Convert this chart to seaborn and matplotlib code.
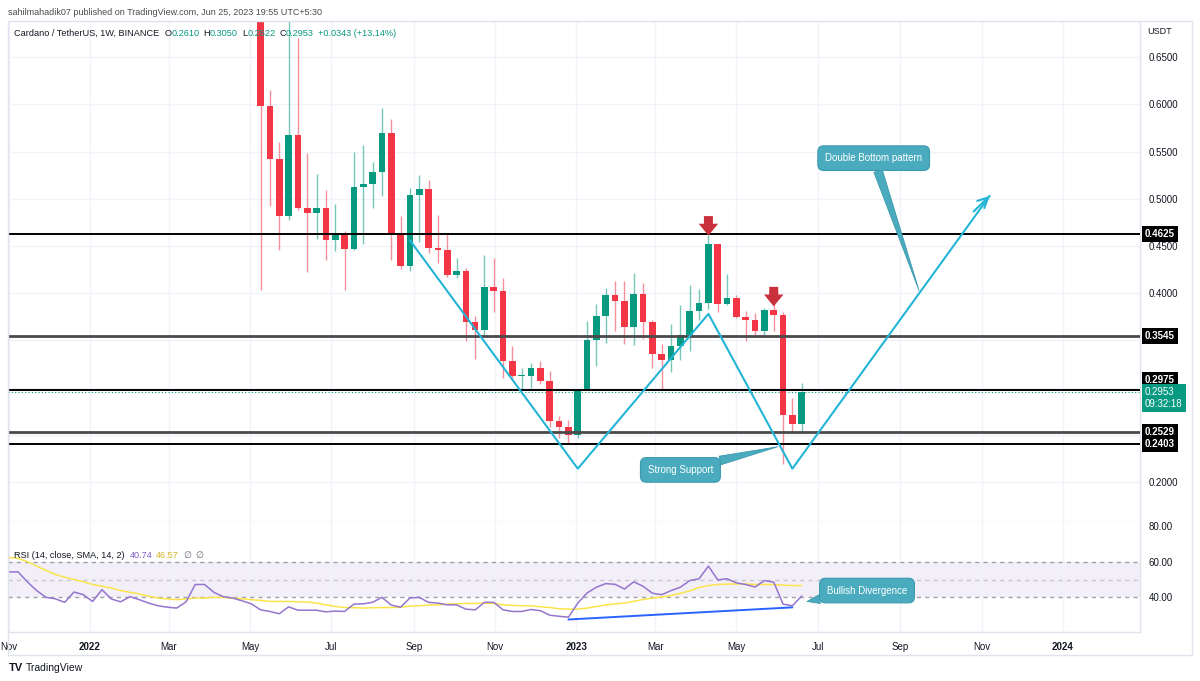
"""
Weekly ADA/USDT chart (TradingView style) with RSI pane, key levels and
double-bottom annotations. Saves out.png (1200x681).
"""

import matplotlib
matplotlib.use("Agg")
import matplotlib.pyplot as plt
import matplotlib.dates as mdates
import matplotlib.transforms as mtransforms
from matplotlib.patches import Rectangle
import numpy as np
import pandas as pd
import seaborn as sns

W, H = 1200, 681

GREEN = "#089981"
RED = "#F23645"
CYAN = "#22b5d6"
CALLOUT = "#4aabbe"
TEXT = "#131722"
GRID = "#f0f3fa"

# ---- data -----------------------------------------------------------------
# weekly candles, first week shown is 2022-05-09
CANDLE_START = "2022-05-09"
opens = [0.790, 0.598, 0.542, 0.482, 0.568, 0.490, 0.485, 0.490, 0.456, 0.463,
         0.447, 0.512, 0.516, 0.528, 0.570, 0.463, 0.429, 0.504, 0.510, 0.448,
         0.446, 0.419, 0.423, 0.369, 0.361, 0.406, 0.402, 0.3285, 0.312, 0.3125,
         0.321, 0.3065, 0.265, 0.2584, 0.2496, 0.2973, 0.350, 0.376, 0.3975, 0.392,
         0.364, 0.399, 0.369, 0.336, 0.329, 0.344, 0.356, 0.3815, 0.389, 0.4516,
         0.388, 0.395, 0.375, 0.371, 0.3596, 0.3826, 0.3773, 0.2708, 0.2610]
highs = [0.800, 0.615, 0.560, 0.700, 0.670, 0.548, 0.526, 0.509, 0.494, 0.466,
         0.549, 0.557, 0.539, 0.596, 0.584, 0.482, 0.511, 0.525, 0.520, 0.483,
         0.463, 0.4375, 0.427, 0.3755, 0.440, 0.4375, 0.416, 0.3436, 0.321, 0.326,
         0.3285, 0.318, 0.270, 0.2655, 0.2983, 0.370, 0.388, 0.405, 0.413, 0.413,
         0.421, 0.4105, 0.372, 0.346, 0.367, 0.387, 0.409, 0.4046, 0.462, 0.4516,
         0.420, 0.3975, 0.3815, 0.3787, 0.3843, 0.3886, 0.3797, 0.2889, 0.3050]
lows = [0.403, 0.492, 0.446, 0.477, 0.488, 0.422, 0.457, 0.435, 0.445, 0.403,
        0.446, 0.452, 0.490, 0.503, 0.435, 0.426, 0.423, 0.454, 0.442, 0.432,
        0.417, 0.416, 0.349, 0.330, 0.353, 0.380, 0.310, 0.310, 0.298, 0.299,
        0.304, 0.258, 0.247, 0.240, 0.247, 0.2973, 0.323, 0.347, 0.360, 0.346,
        0.3455, 0.3515, 0.321, 0.297, 0.316, 0.329, 0.339, 0.3717, 0.383, 0.3797,
        0.3879, 0.3738, 0.349, 0.356, 0.3553, 0.3603, 0.2194, 0.2531, 0.2522]
closes = [0.598, 0.542, 0.482, 0.568, 0.490, 0.485, 0.490, 0.456, 0.463, 0.447,
          0.512, 0.516, 0.528, 0.570, 0.463, 0.429, 0.504, 0.510, 0.448, 0.446,
          0.419, 0.423, 0.369, 0.361, 0.406, 0.402, 0.3285, 0.312, 0.3125, 0.321,
          0.3065, 0.265, 0.2584, 0.2496, 0.2973, 0.350, 0.376, 0.3975, 0.392, 0.364,
          0.399, 0.369, 0.336, 0.329, 0.344, 0.356, 0.3815, 0.389, 0.4516, 0.388,
          0.395, 0.375, 0.371, 0.3596, 0.3826, 0.3773, 0.2708, 0.2610, 0.2953]

# weekly RSI(14) and its SMA(14), first week is 2021-11-01
RSI_START = "2021-11-01"
rsi = [54.2, 54.3, 48.7, 43.8, 40.0, 39.2, 37.2, 43.0, 41.5, 37.7,
       44.3, 39.1, 37.5, 40.4, 38.7, 36.8, 35.3, 34.5, 34.0, 37.4,
       47.2, 47.2, 42.8, 40.4, 39.6, 38.1, 36.4, 33.0, 32.1, 30.8,
       34.7, 32.8, 32.8, 32.8, 31.9, 32.3, 32.1, 36.2, 36.4, 37.2,
       40.0, 35.7, 34.5, 39.6, 40.0, 37.2, 36.8, 35.8, 35.8, 33.4,
       33.0, 37.2, 37.2, 33.0, 32.1, 32.1, 33.2, 32.5, 30.0, 29.4,
       28.9, 36.8, 42.5, 45.7, 47.7, 47.3, 44.7, 48.7, 46.2, 42.3,
       41.5, 43.8, 45.7, 49.4, 50.4, 57.5, 49.8, 50.4, 48.1, 47.2,
       45.8, 49.4, 48.5, 36.2, 35.3, 40.74]
rsi_sma = [62.3, 61.9, 60.0, 57.5, 55.1, 52.8, 51.3, 50.0, 48.7, 47.2,
           46.2, 45.3, 43.8, 42.8, 41.9, 40.6, 39.6, 39.1, 38.7, 39.1,
           39.6, 39.6, 40.0, 40.0, 39.6, 39.2, 38.7, 38.3, 37.7, 37.7,
           37.7, 37.5, 37.4, 36.8, 35.8, 34.9, 34.3, 34.2, 34.0, 34.2,
           34.3, 34.3, 34.5, 35.1, 35.3, 35.7, 35.8, 36.2, 36.4, 36.6,
           36.6, 36.8, 36.6, 35.8, 35.5, 35.3, 35.3, 34.7, 34.3, 33.6,
           33.4, 33.4, 34.0, 34.9, 35.8, 36.3, 36.8, 37.8, 38.8, 39.6,
           40.2, 41.0, 42.3, 43.6, 45.5, 46.6, 47.2, 47.4, 47.5, 47.5,
           47.2, 47.2, 47.2, 46.8, 46.6, 46.57]

# horizontal levels drawn on the chart
levels = [0.4625, 0.3545, 0.2975, 0.2529, 0.2403]
level_labels = ["0.4625", "0.3545", "0.2975", "0.2529", "0.2403"]
last_price = 0.2953

# double bottom zig-zag
pattern_dates = ["2022-08-29", "2023-01-02", "2023-04-10", "2023-06-12", "2023-11-07"]
pattern_prices = [0.456, 0.214, 0.378, 0.214, 0.503]

# RSI divergence trendline
div_dates = ["2022-12-26", "2023-06-12"]
div_values = [27.6, 34.4]

# sell-off arrows (date, tip price)
arrow_dates = ["2023-04-10", "2023-05-29"]
arrow_prices = [0.461, 0.386]

price_ticks = [0.20, 0.25, 0.30, 0.35, 0.40, 0.45, 0.50, 0.55, 0.60, 0.65]
price_tick_labels = ["0.2000", "", "", "", "0.4000", "0.4500", "0.5000",
                     "0.5500", "0.6000", "0.6500"]
rsi_ticks = [40, 60, 80]
x_tick_dates = ["2021-11-01", "2022-01-01", "2022-03-01", "2022-05-01", "2022-07-01",
                "2022-09-01", "2022-11-01", "2023-01-01", "2023-03-01", "2023-05-01",
                "2023-07-01", "2023-09-01", "2023-11-01", "2024-01-01"]
x_tick_labels = ["Nov", "2022", "Mar", "May", "Jul", "Sep", "Nov", "2023",
                 "Mar", "May", "Jul", "Sep", "Nov", "2024"]


def dnum(s):
    return mdates.date2num(pd.Timestamp(s))


def px_axes(fig, left, top, right, bottom):
    return fig.add_axes([left / W, 1 - bottom / H, (right - left) / W, (bottom - top) / H])


def draw_pieces(fig, x_px, y_px, pieces, size):
    """Write a row of differently coloured text pieces left to right."""
    renderer = fig.canvas.get_renderer()
    x = x_px
    for txt, color, extra in pieces:
        t = fig.text(x / W, 1 - y_px / H, txt, color=color, fontsize=size,
                     ha="left", va="center")
        x += t.get_window_extent(renderer=renderer).width + extra


sns.set_theme(style="white")
plt.rcParams["font.family"] = ["Liberation Sans", "DejaVu Sans"]

fig = plt.figure(figsize=(W / 100, H / 100), dpi=100)
ax = px_axes(fig, 8, 21, 1140, 522)
ax_rsi = px_axes(fig, 8, 522, 1140, 632)

x_left = dnum(RSI_START) - 0.5
x_right = x_left + 1132 / (9.33 / 7)
for a in (ax, ax_rsi):
    a.set_xlim(x_left, x_right)
    a.set_facecolor("white")
    for side in ("top", "left"):
        a.spines[side].set_visible(False)
    for side in ("right", "bottom"):
        a.spines[side].set_color("#e0e3eb")
        a.spines[side].set_linewidth(1)
    a.set_xticks([dnum(d) for d in x_tick_dates])
    a.grid(axis="x", color=GRID, linewidth=1)
    a.tick_params(length=0)

# ---- price pane -------------------------------------------------------------
ax.set_ylim(0.1575, 0.6883)
ax.set_yticks(price_ticks)
ax.set_yticklabels(price_tick_labels)
ax.yaxis.tick_right()
ax.tick_params(axis="y", labelsize=7, labelcolor=TEXT, pad=6)
ax.set_xticklabels([])
ax.grid(axis="y", color=GRID, linewidth=1)

cdates = pd.date_range(CANDLE_START, periods=len(opens), freq="7D")
cx = mdates.date2num(cdates)
o = np.array(opens)
c = np.array(closes)
colors = [GREEN if cc >= oo else RED for oo, cc in zip(o, c)]
ax.vlines(cx, lows, highs, colors=colors, linewidth=1, alpha=0.55, zorder=3)
body = np.maximum(np.abs(c - o), 0.0008)
ax.bar(cx, body, bottom=np.minimum(o, c), width=5.0, color=colors,
       linewidth=0, zorder=4)

for lvl in levels:
    grey = lvl in (0.3545, 0.2529)
    ax.axhline(lvl, color="#4a4a4a" if grey else "black",
               linewidth=2.0 if grey else 1.4, zorder=5)
ax.axhline(last_price, color=GREEN, linewidth=0.8, linestyle=(0, (1, 2)), zorder=2)

pdx = [dnum(d) for d in pattern_dates]
ax.plot(pdx, pattern_prices, color=CYAN, linewidth=1.5, zorder=6)
ax.annotate("", xy=(pdx[-1], pattern_prices[-1]),
            xytext=(pdx[-1] - 12, pattern_prices[-1] - 0.0165),
            arrowprops=dict(arrowstyle="->", color=CYAN, lw=1.5,
                            mutation_scale=18, shrinkA=0, shrinkB=0), zorder=6)

for d, p in zip(arrow_dates, arrow_prices):
    ax.annotate("", xy=(dnum(d), p), xytext=(0, 14), textcoords="offset points",
                arrowprops=dict(arrowstyle="simple,head_length=0.85,head_width=1.4,tail_width=0.65",
                                fc="#c9303c", ec="none", mutation_scale=10,
                                shrinkA=0, shrinkB=0), zorder=7)

box = dict(boxstyle="round,pad=0.75,rounding_size=0.6", fc=CALLOUT, ec="#3b9aae", lw=0.8)
ax.annotate("Double Bottom pattern", xy=(dnum("2023-09-15"), 0.4028),
            xytext=(dnum("2023-08-12"), 0.543), color="white", fontsize=7,
            ha="center", va="center", bbox=box, zorder=8,
            arrowprops=dict(arrowstyle="wedge,tail_width=0.9", fc=CALLOUT,
                            ec="#3b9aae", lw=0.6, shrinkA=0, shrinkB=0))
ax.annotate("Strong Support", xy=(dnum("2023-06-01"), 0.2372),
            xytext=(dnum("2023-03-20"), 0.2127), color="white", fontsize=7,
            ha="center", va="center", bbox=box, zorder=8,
            arrowprops=dict(arrowstyle="wedge,tail_width=0.9", fc=CALLOUT,
                            ec="#3b9aae", lw=0.6, shrinkA=0, shrinkB=0))

# right scale boxes; the 0.2975 tag sits just above the live-price tag
blend = mtransforms.blended_transform_factory(ax.transAxes, ax.transData)
tag_shift = {"0.2975": 0.0108}
for lvl, lab in zip(levels, level_labels):
    ax.text(1.0 + 5 / 1132, lvl + tag_shift.get(lab, 0.0), lab, transform=blend,
            ha="left", va="center", color="white", fontsize=7, fontweight="bold",
            clip_on=False, zorder=10,
            bbox=dict(boxstyle="square,pad=0.3", fc="black", ec="none"))
ax.text(1.0 + 5 / 1132, last_price - 0.0064, "0.2953\n09:32:18", transform=blend,
        ha="left", va="center", color="white", fontsize=7, linespacing=1.25,
        clip_on=False, zorder=11,
        bbox=dict(boxstyle="square,pad=0.3", fc=GREEN, ec="none"))

# ---- RSI pane ----------------------------------------------------------------
ax_rsi.set_ylim(20.6, 82.2)
ax_rsi.set_yticks(rsi_ticks)
ax_rsi.set_yticklabels([f"{v:.2f}" for v in rsi_ticks])
ax_rsi.yaxis.tick_right()
ax_rsi.tick_params(axis="y", labelsize=7, labelcolor=TEXT, pad=6)
ax_rsi.set_xticklabels(x_tick_labels)
ax_rsi.tick_params(axis="x", labelsize=7, labelcolor=TEXT, pad=7)
for lab in ax_rsi.get_xticklabels():
    if lab.get_text().isdigit():
        lab.set_fontweight("bold")

ax_rsi.axhspan(40, 60, color="#7e57c2", alpha=0.09, linewidth=0, zorder=0)
for lvl, alpha in ((60, 0.9), (50, 0.45), (40, 0.9)):
    ax_rsi.axhline(lvl, color="#9598a1", linewidth=1, alpha=alpha,
                   linestyle=(0, (3, 3)), zorder=1)

rsi_df = pd.DataFrame({
    "week": mdates.date2num(pd.date_range(RSI_START, periods=len(rsi), freq="7D")),
    "rsi": rsi,
    "sma": rsi_sma,
})
sns.lineplot(data=rsi_df, x="week", y="sma", ax=ax_rsi, color="#fbe44a",
             linewidth=1.1, zorder=3)
sns.lineplot(data=rsi_df, x="week", y="rsi", ax=ax_rsi, color="#9575cd",
             linewidth=1.1, zorder=4)
ax_rsi.set_xlabel("")
ax_rsi.set_ylabel("")
ax_rsi.plot([dnum(d) for d in div_dates], div_values, color="#2962ff",
            linewidth=1.4, zorder=5)

ax_rsi.annotate("Bullish Divergence", xy=(dnum("2023-06-23"), 37.7),
                xytext=(dnum("2023-08-07"), 43.8), color="white", fontsize=7,
                ha="center", va="center", bbox=box, zorder=8,
                arrowprops=dict(arrowstyle="wedge,tail_width=0.9", fc=CALLOUT,
                                ec="#3b9aae", lw=0.6, shrinkA=0, shrinkB=0))

# ---- frame and header texts -------------------------------------------------
fig.patches.append(Rectangle((8 / W, 1 - 655 / H), 1184 / W, 634 / H,
                             transform=fig.transFigure, fill=False,
                             ec="#e0e3eb", lw=1))

fig.text(8 / W, 1 - 12.5 / H,
         "sahilmahadik07 published on TradingView.com, Jun 25, 2023 19:55 UTC+5:30",
         color="#4a4a4a", fontsize=6.5, ha="left", va="center")
draw_pieces(fig, 14, 33, [
    ("Cardano / TetherUS, 1W, BINANCE", TEXT, 5),
    ("O", TEXT, 0), ("0.2610", GREEN, 4),
    ("H", TEXT, 0), ("0.3050", GREEN, 4),
    ("L", TEXT, 0), ("0.2522", GREEN, 4),
    ("C", TEXT, 0), ("0.2953", GREEN, 4),
    ("+0.0343 (+13.14%)", GREEN, 0),
], size=6.6)
draw_pieces(fig, 14, 555, [
    ("RSI (14, close, SMA, 14, 2)", TEXT, 5),
    ("40.74", "#7e57c2", 4),
    ("46.57", "#d4b82a", 4),
    ("\u2205", "#6a6d78", 4),
    ("\u2205", "#6a6d78", 0),
], size=6.6)
fig.text(1160 / W, 1 - 32 / H, "USDT", color=TEXT, fontsize=6.5, ha="center", va="center")

fig.text(9 / W, 1 - 668 / H, "TV", color=TEXT, fontsize=8, fontweight="heavy",
         ha="left", va="center")
fig.text(26 / W, 1 - 668 / H, "TradingView", color=TEXT, fontsize=7.5,
         ha="left", va="center")

fig.savefig("out.png", dpi=100)
